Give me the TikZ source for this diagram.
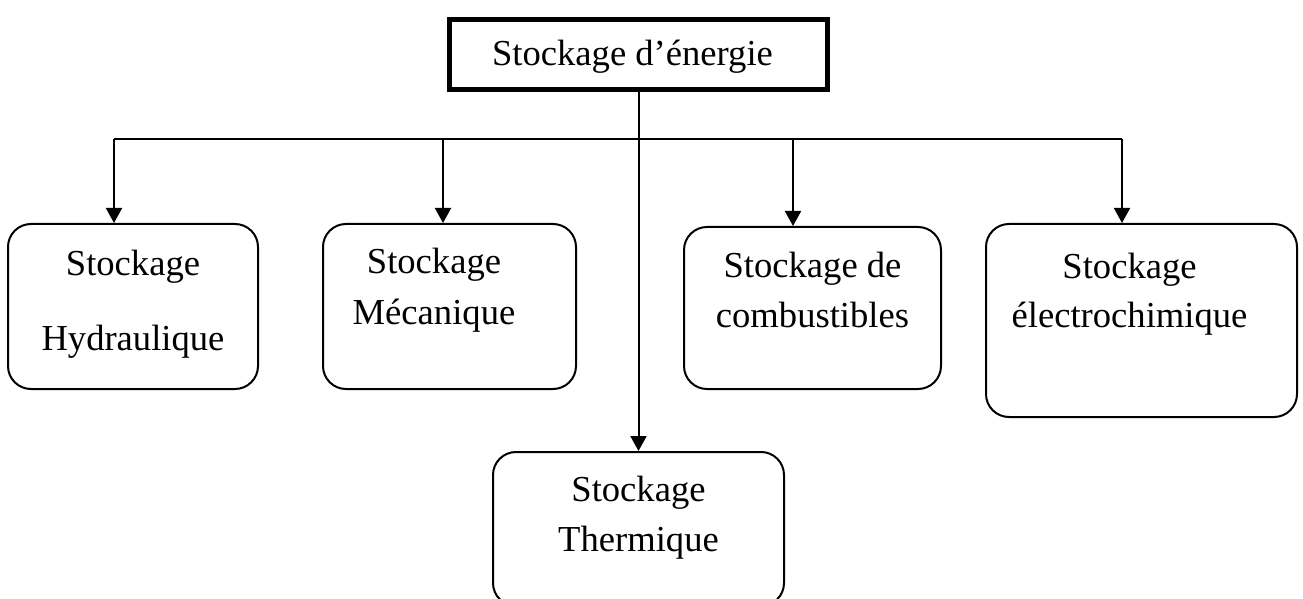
\documentclass[tikz,border=0pt]{standalone}
\usepackage{fontspec}
\setmainfont{Liberation Serif}
\usetikzlibrary{arrows.meta}

% text block of a box: width, height, gap above first line, lines, left shift
\newcommand{\stocktext}[5]{%
  \parbox[c][#2][t]{#1}{\fontsize{18.3}{25}\selectfont\centering
    \rightskip=#5 plus 1fil\relax
    \vspace*{#3}\strut #4}}

\begin{document}
\begin{tikzpicture}[
    x=0.5pt, y=-0.5pt,
    rootbox/.style={
        draw,
        line width=2.5pt,
        inner sep=0pt,
        anchor=north,
    },
    stockbox/.style={
        draw,
        line width=1pt,
        rounded corners=11.5pt,
        inner sep=0pt,
        anchor=north,
    },
    conn/.style={line width=1pt},
    arr/.style={conn, -{Triangle[length=7.5pt, width=8pt]}},
]
\useasboundingbox (0,0) rectangle (1303,599);

\node[rootbox] (root) at (638.5,17.5)
    {\stocktext{189pt}{35pt}{5.25pt}{Stockage d’énergie}{6pt}};

\node[stockbox] (hyd) at (133,223)
    {\stocktext{125pt}{82.5pt}{8.5pt}{Stockage\\[12.5pt]Hydraulique}{0pt}};
\node[stockbox] (meca) at (449.5,223)
    {\stocktext{126.5pt}{82.5pt}{7.5pt}{Stockage\\Mécanique}{15.5pt}};
\node[stockbox] (comb) at (812.5,226)
    {\stocktext{128.5pt}{81pt}{8pt}{Stockage de\\combustibles}{0pt}};
\node[stockbox] (elec) at (1141.5,223)
    {\stocktext{155.5pt}{96.5pt}{9.5pt}{Stockage\\électrochimique}{12pt}};
\node[stockbox] (therm) at (638.5,451)
    {\stocktext{145.5pt}{77pt}{7pt}{Stockage\\Thermique}{0pt}};

% distribution line
\coordinate (hydin) at (114,139);
\coordinate (mecain) at (443,139);
\coordinate (combin) at (793,139);
\coordinate (elecin) at (1122,139);

\draw[conn] (hydin) -- (elecin);
\draw[arr] (root.south) -- (therm.north);
\draw[arr] (hydin) -- (hydin |- hyd.north);
\draw[arr] (mecain) -- (mecain |- meca.north);
\draw[arr] (combin) -- (combin |- comb.north);
\draw[arr] (elecin) -- (elecin |- elec.north);

\end{tikzpicture}
\end{document}
